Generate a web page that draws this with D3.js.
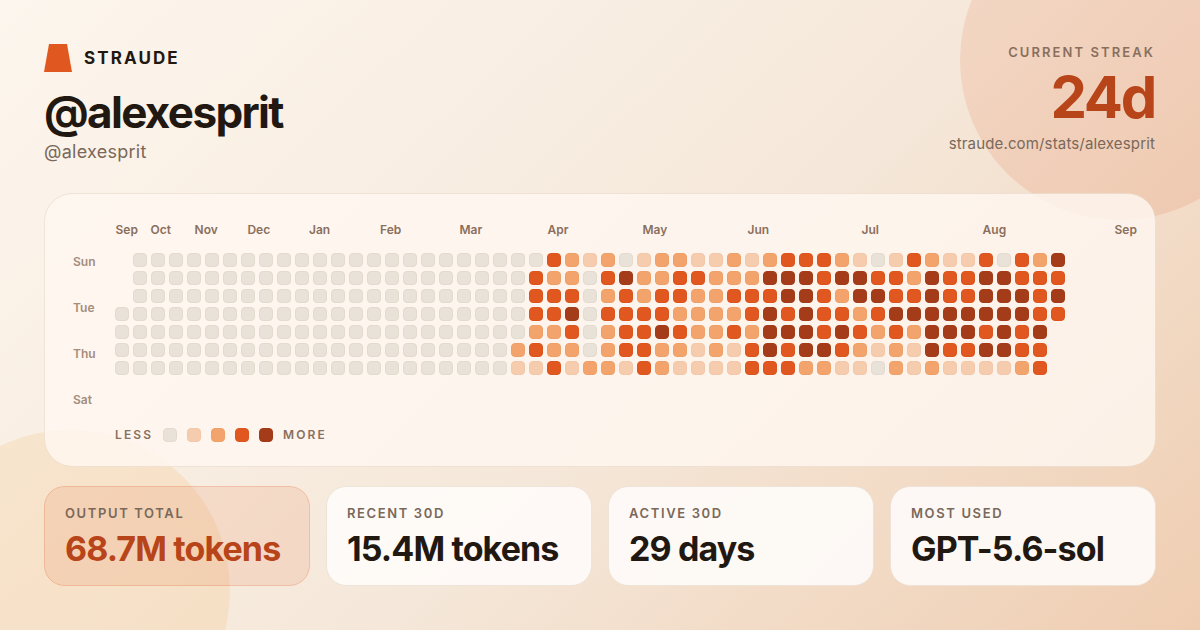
<!DOCTYPE html>
<html><head><meta charset="utf-8">
<script src="https://cdn.jsdelivr.net/npm/d3@7"></script>
<style>
html,body{margin:0;padding:0;background:#fdf6ee;overflow:hidden}
svg{display:block}
text{font-family:Inter,sans-serif}
</style></head><body><div id="c"></div>
<script>
const _ = null;
// Activity levels per weekday row (Sun..Sat order as drawn), one entry per week column
const row0 = [_,0,0,0,0,0,0,0,0,0,0,0,0,0,0,0,0,0,0,0,0,0,0,0,3,2,1,2,0,1,2,2,1,1,2,1,2,3,3,3,2,1,0,1,3,2,1,1,3,0,3,2,4];
const row1 = [_,0,0,0,0,0,0,0,0,0,0,0,0,0,0,0,0,0,0,0,0,0,0,3,2,2,0,3,4,2,2,3,3,2,2,2,4,4,4,3,4,4,3,3,2,4,3,3,4,4,3,3,3];
const row2 = [_,0,0,0,0,0,0,0,0,0,0,0,0,0,0,0,0,0,0,0,0,0,0,3,3,3,0,2,3,2,3,3,2,2,3,3,3,4,4,3,2,4,4,3,3,4,3,3,4,4,4,3,4];
const row3 = [0,0,0,0,0,0,0,0,0,0,0,0,0,0,0,0,0,0,0,0,0,0,0,3,3,4,0,3,3,3,3,2,2,2,2,3,4,3,4,3,3,2,3,4,4,4,4,4,4,4,4,3,3];
const row4 = [0,0,0,0,0,0,0,0,0,0,0,0,0,0,0,0,0,0,0,0,0,0,0,2,2,3,0,2,3,3,4,3,2,2,3,2,4,4,4,3,4,3,2,3,2,4,4,4,3,4,3,4,_];
const row5 = [0,0,0,0,0,0,0,0,0,0,0,0,0,0,0,0,0,0,0,0,0,0,2,3,2,2,0,2,3,3,2,2,1,2,1,3,4,3,4,4,3,2,1,2,1,4,3,3,4,4,3,3,_];
const row6 = [0,0,0,0,0,0,0,0,0,0,0,0,0,0,0,0,0,0,0,0,0,0,1,1,3,1,2,2,1,3,2,1,1,1,1,3,3,3,2,2,1,1,0,2,1,2,1,1,1,1,2,3,_];
const rows = [row0,row1,row2,row3,row4,row5,row6];

const monthLabels = ["Sep","Oct","Nov","Dec","Jan","Feb","Mar","Apr","May","Jun","Jul","Aug","Sep"];
const monthWeeks  = [0,1.94,4.39,7.33,10.75,14.7,19.11,24,29.28,35.11,41.44,48.17,55.5];
const dayLabels = ["Sun","Tue","Thu","Sat"];
const dayIndex  = [0,2,4,6];
const levels = [0,1,2,3,4];
const levelColors = ["#e9e2d8","#f6ccae","#f2a46c","#e0581f","#a53c19"];
const levelBorders = ["#e4dbcf","#f3c7a7","#efa066","#dc551e","#a23b18"];

const cardLabels = ["OUTPUT TOTAL","RECENT 30D","ACTIVE 30D","MOST USED"];
const cardValues = ["68.7M tokens","15.4M tokens","29 days","GPT-5.6-sol"];

const W=1200,H=630;
const svg=d3.select("#c").append("svg").attr("width",W).attr("height",H).attr("viewBox",`0 0 ${W} ${H}`);
const defs=svg.append("defs");
const bg=defs.append("linearGradient").attr("id","bg").attr("gradientUnits","userSpaceOnUse")
  .attr("x1",151).attr("y1",-151).attr("x2",1049).attr("y2",781);
[[0,"#fdf6ee"],[.55,"#f5e8da"],[1,"#efcdb1"]].forEach(s=>bg.append("stop").attr("offset",s[0]).attr("stop-color",s[1]));
svg.append("rect").attr("width",W).attr("height",H).attr("fill","url(#bg)");
svg.append("circle").attr("cx",1120).attr("cy",60).attr("r",160).attr("fill","#e0581f").attr("fill-opacity",.13);
svg.append("circle").attr("cx",70).attr("cy",590).attr("r",160).attr("fill","#f5c584").attr("fill-opacity",.25);

// brand
svg.append("path").attr("d","M49 44H67L72 72H44Z").attr("fill","#e0581f");
svg.append("text").attr("x",84).attr("y",64).attr("font-size",17).attr("font-weight",700).attr("letter-spacing",2.1).attr("fill","#211812").text("STRAUDE");
svg.append("text").attr("x",44).attr("y",128).attr("font-size",44).attr("font-weight",700).attr("letter-spacing",-1.66).attr("fill","#211812").text("@alexesprit");
svg.append("text").attr("x",44).attr("y",158).attr("font-size",18).attr("letter-spacing",.27).attr("fill","#7a685a").text("@alexesprit");

// streak
svg.append("text").attr("x",1155).attr("y",57).attr("text-anchor","end").attr("font-size",13).attr("font-weight",600).attr("letter-spacing",2.08).attr("fill","#8a6f5d").text("CURRENT STREAK");
svg.append("text").attr("x",1155).attr("y",118).attr("text-anchor","end").attr("font-size",58).attr("font-weight",700).attr("letter-spacing",-2.32).attr("fill","#b8441a").text("24d");
svg.append("text").attr("x",1155).attr("y",149).attr("text-anchor","end").attr("font-size",15).attr("letter-spacing",.15).attr("fill","#7a685a").text("straude.com/stats/alexesprit");

// panel
svg.append("rect").attr("x",44.5).attr("y",193.5).attr("width",1111).attr("height",273).attr("rx",28)
  .attr("fill","#fff8f1").attr("fill-opacity",.8).attr("stroke","#e8d9ca").attr("stroke-opacity",.6);

const cell=14;
const x=d3.scaleLinear().domain([0,52]).range([115,1051]);
const y=d3.scaleLinear().domain([0,6]).range([253,361]);
const dayY=d3.scaleLinear().domain([0,6]).range([265,403]);

// month labels
const mAxis=d3.axisTop(x).tickValues(monthWeeks).tickSize(0).tickFormat((d,i)=>monthLabels[i]);
const mg=svg.append("g").attr("transform","translate(0,234)").call(mAxis);
mg.select(".domain").remove();
mg.selectAll("text").attr("y",0).attr("dy",0).attr("text-anchor","start").attr("font-family","Inter,sans-serif")
  .attr("font-size",12).attr("font-weight",600).attr("fill","#8a6f5d");

// day labels
const dAxis=d3.axisLeft(dayY).tickValues(dayIndex).tickSize(0).tickFormat((d,i)=>dayLabels[i]);
const dg=svg.append("g").call(dAxis);
dg.select(".domain").remove();
dg.selectAll("text").attr("x",73).attr("dy",0).attr("text-anchor","start").attr("font-family","Inter,sans-serif")
  .attr("font-size",12).attr("font-weight",600).attr("fill","#a48d7c");

// cells
const color=d3.scaleOrdinal().domain(levels).range(levelColors);
const border=d3.scaleOrdinal().domain(levels).range(levelBorders);
rows.forEach((r,ri)=>{
  svg.append("g").selectAll("rect").data(r.map((v,i)=>({v,i})).filter(d=>d.v!==null)).join("rect")
    .attr("x",d=>x(d.i)+.5).attr("y",y(ri)+.5).attr("width",cell-1).attr("height",cell-1).attr("rx",3.5)
    .attr("fill",d=>color(d.v)).attr("stroke",d=>border(d.v));
});

// legend
const legendX=d3.scalePoint().domain(levels).range([163,259]);
svg.append("text").attr("x",115).attr("y",439).attr("font-size",12).attr("font-weight",600).attr("letter-spacing",2.16).attr("fill","#8a6f5d").text("LESS");
svg.append("g").selectAll("rect").data(levels).join("rect")
  .attr("x",d=>legendX(d)+.5).attr("y",428.5).attr("width",13).attr("height",13).attr("rx",3.5)
  .attr("fill",d=>color(d)).attr("stroke",d=>border(d));
svg.append("text").attr("x",283).attr("y",439).attr("font-size",12).attr("font-weight",600).attr("letter-spacing",2.16).attr("fill","#8a6f5d").text("MORE");

// cards
const cardX=d3.scaleLinear().domain([0,3]).range([44,890]);
const cg=svg.append("g").selectAll("g").data(cardLabels).join("g").attr("transform",(d,i)=>`translate(${cardX(i)},486)`);
cg.append("rect").attr("x",.5).attr("y",.5).attr("width",265).attr("height",99).attr("rx",20)
  .attr("fill",(d,i)=>i===0?"#e0581f":"#fefbf8").attr("fill-opacity",(d,i)=>i===0?.12:.92)
  .attr("stroke",(d,i)=>i===0?"#e0581f":"#eadfd3").attr("stroke-opacity",(d,i)=>i===0?.25:.7);
cg.append("text").attr("x",21).attr("y",32).attr("font-size",13).attr("font-weight",600).attr("letter-spacing",1.62).attr("fill","#7a685a").text(d=>d);
cg.append("text").attr("x",21).attr("y",75).attr("font-size",34).attr("font-weight",700).attr("letter-spacing",-.88).attr("fill",(d,i)=>i===0?"#b8441a":"#211812").text((d,i)=>cardValues[i]);
</script></body></html>
